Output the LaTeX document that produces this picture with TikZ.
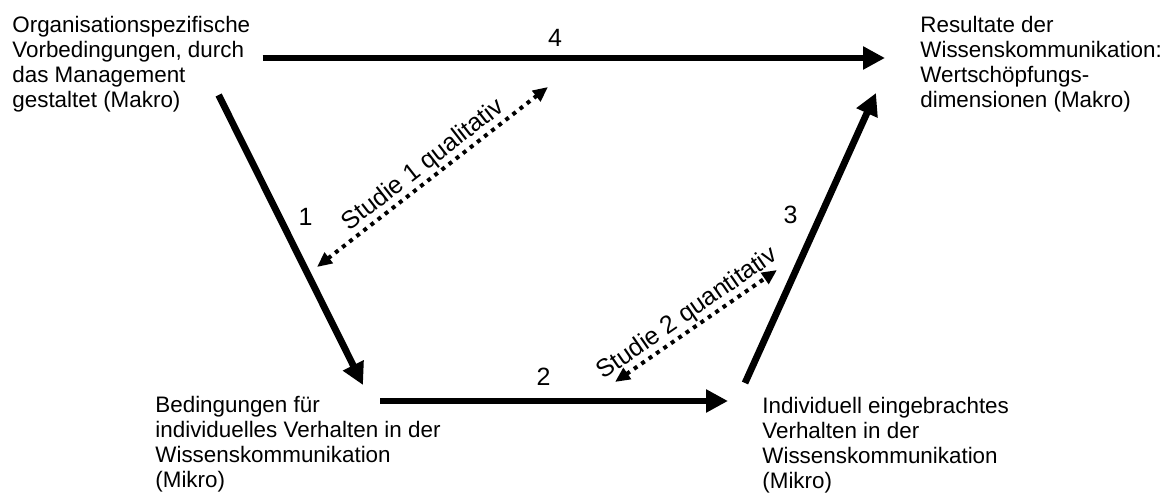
\documentclass[tikz,border=0pt]{standalone}
\usepackage{fontspec}
\setmainfont{Liberation Sans}
\usetikzlibrary{arrows.meta}

\begin{document}
\begin{tikzpicture}[
  x=0.5pt, y=-0.5pt,
  every node/.style={font=\fontsize{11.2}{12.5}\selectfont},
  box/.style={anchor=north west, align=left, inner sep=0pt},
  flow/.style={line width=3.4pt, -{Triangle[length=11pt,width=11pt]}},
  study/.style={line width=2pt, dash pattern=on 2pt off 2.5pt,
    {Triangle[length=7.5pt,width=6.5pt]}-{Triangle[length=7.5pt,width=6.5pt]}},
  num/.style={inner sep=0pt, font=\fontsize{12.5}{14}\selectfont},
  studytext/.style={midway, sloped, above, inner sep=0.5pt, font=\fontsize{12.5}{14}\selectfont}
]

\useasboundingbox (0,0) rectangle (1164,496);

% --- the four text blocks ---
\node[box] (tl) at (12,16) {Organisationspezifische\\Vorbedingungen, durch\\das Management\\gestaltet (Makro)};
\node[box] (tr) at (920,16) {Resultate der\\Wissenskommunikation:\\Wertschöpfungs-\\dimensionen (Makro)};
\node[box] (bl) at (155,396) {Bedingungen für\\individuelles Verhalten in der\\Wissenskommunikation\\(Mikro)};
\node[box] (br) at (762,397) {Individuell eingebrachtes\\Verhalten in der\\Wissenskommunikation\\(Mikro)};

% --- solid arrows 1 to 4 ---
\draw[flow] ([shift={(12,42)}]tl.north east) -- node[num, pos=0.47, above=4pt] (n4) {4} ([shift={(-35,42)}]tr.north west);
\draw[flow] ([shift={(-32,79)}]tl.north east) -- node[num, pos=0.42, right=8pt] (n1) {1} ([shift={(208,-11)}]bl.north west);
\draw[flow] ([shift={(225,5)}]bl.north west) -- node[num, pos=0.47, above=6pt] (n2) {2} ([shift={(-34,4)}]br.north west);
\draw[flow] ([shift={(-17,-14)}]br.north west) -- node[num, pos=0.58, left=10pt] (n3) {3} ([shift={(-44,77)}]tr.north west);

% --- dotted arrows for the two studies ---
\coordinate (s1a) at (317,267);
\coordinate (s1b) at (548,87);
\coordinate (s2a) at (615,382);
\coordinate (s2b) at (777,270);

\draw[study] (s1a) -- node[studytext] (q1) {Studie 1 qualitativ} (s1b);
\draw[study] (s2a) -- node[studytext] (q2) {Studie 2 quantitativ} (s2b);

\end{tikzpicture}
\end{document}
